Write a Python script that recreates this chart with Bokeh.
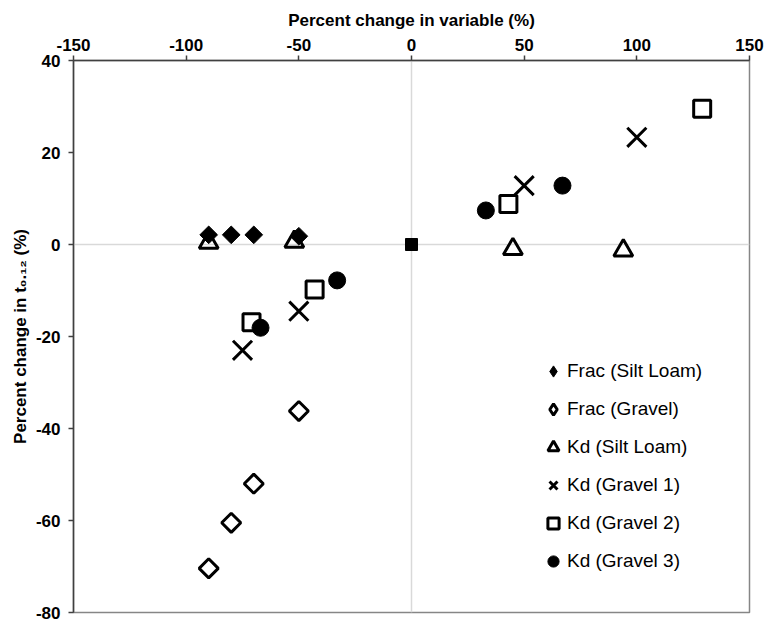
import math
from bokeh.plotting import figure
from bokeh.models import FixedTicker, Legend, LegendItem, Range1d
from bokeh.embed import file_html
from bokeh.resources import INLINE

# ---- data ----
x_ticks = [-150, -100, -50, 0, 50, 100, 150]
y_ticks = [-80, -60, -40, -20, 0, 20, 40]

frac_silt_x = [-90, -80, -70, -50]
frac_silt_y = [2.1, 2.1, 2.1, 1.8]
frac_grav_x = [-90, -80, -70, -50]
frac_grav_y = [-70.4, -60.5, -52.0, -36.2]
kd_silt_x = [-90, -52, 45, 94]
kd_silt_y = [0.4, 0.6, -1.0, -1.3]
kd_g1_x = [-75, -50, 50, 100]
kd_g1_y = [-23.0, -14.5, 12.8, 23.3]
kd_g2_x = [-71, -43, 43, 129]
kd_g2_y = [-16.9, -9.8, 8.8, 29.5]
kd_g3_x = [-67, -33, 33, 67]
kd_g3_y = [-18.1, -7.8, 7.4, 12.8]
base_x = [0]
base_y = [0]

labels = ["Frac (Silt Loam)", "Frac (Gravel)", "Kd (Silt Loam)",
          "Kd (Gravel 1)", "Kd (Gravel 2)", "Kd (Gravel 3)"]

FONT = "Liberation Sans"
INK = "#000000"

p = figure(width=766, height=621, output_backend="svg", toolbar_location=None,
           x_range=Range1d(-150, 150), y_range=Range1d(-80, 40),
           x_axis_location="above",
           min_border_left=73, min_border_right=17, min_border_top=60, min_border_bottom=9)
p.background_fill_color = "white"
p.border_fill_color = "white"
p.outline_line_color = "#868686"
p.outline_line_width = 1.5

# axes
for ax, ticks in ((p.xaxis[0], x_ticks), (p.yaxis[0], y_ticks)):
    ax.ticker = FixedTicker(ticks=ticks)
    ax.major_label_overrides = {t: str(t) for t in ticks}
    ax.minor_tick_line_color = None
    ax.major_tick_in = 0
    ax.major_tick_out = 5
    ax.axis_line_color = "#404040"
    ax.axis_line_width = 1.5
    ax.major_tick_line_color = "#404040"
    ax.major_tick_line_width = 1.5
    ax.major_label_text_font = FONT
    ax.major_label_text_font_style = "bold"
    ax.major_label_text_font_size = "17px"
    ax.major_label_text_color = INK
    ax.axis_label_text_font = FONT
    ax.axis_label_text_font_style = "bold"
    ax.axis_label_text_font_size = "17px"
    ax.axis_label_text_color = INK

p.xaxis.major_label_standoff = 5
p.xaxis.axis_label = "Percent change in variable (%)"
p.xaxis.axis_label_standoff = 6

p.yaxis.major_label_standoff = 8
p.yaxis.axis_label = "Percent change in t\u2080.\u2081\u2082 (%)"
p.yaxis.axis_label_standoff = 3

# grid only at zero
p.xgrid.ticker = FixedTicker(ticks=[0])
p.ygrid.ticker = FixedTicker(ticks=[0])
for g in (p.xgrid[0], p.ygrid[0]):
    g.grid_line_color = "#d9d9d9"
    g.grid_line_width = 1.5

# legend stand-ins for the diamond shapes (drawn first, hidden under the real marks,
# because legend glyphs are drawn unrotated)
l1 = p.scatter(frac_silt_x, frac_silt_y, marker="diamond", size=12,
               fill_color="black", line_color="black", line_width=1)
l2 = p.scatter(frac_grav_x, frac_grav_y, marker="diamond", size=11,
               fill_color="white", line_color="black", line_width=3)

# data
r0 = p.scatter(base_x, base_y, marker="square", size=12, fill_color="black", line_color="black")
r1 = p.scatter(frac_silt_x, frac_silt_y, marker="square", angle=math.pi / 4, size=12.5,
               fill_color="black", line_color="black", line_width=1)
r2 = p.scatter(frac_grav_x, frac_grav_y, marker="square", angle=math.pi / 4, size=13.5,
               fill_color="white", line_color="black", line_width=3)
r3 = p.scatter(kd_silt_x, kd_silt_y, marker="triangle", size=19,
               fill_color="white", fill_alpha=0, line_color="black", line_width=3)
r4 = p.scatter(kd_g1_x, kd_g1_y, marker="x", size=27, line_color="black", line_width=3)
r5 = p.scatter(kd_g2_x, kd_g2_y, marker="square", size=17,
               fill_color="white", line_color="black", line_width=3)
r6 = p.scatter(kd_g3_x, kd_g3_y, marker="circle", size=17,
               fill_color="black", line_color="black")

legend = Legend(items=[LegendItem(label=l, renderers=[r]) for l, r in
                       zip(labels, [l1, l2, r3, r4, r5, r6])],
                location=(466, 37), orientation="vertical",
                glyph_width=28, glyph_height=28, spacing=10, padding=0, margin=0,
                label_standoff=0, label_height=28,
                label_text_font=FONT, label_text_font_size="19px", label_text_color=INK,
                background_fill_alpha=0, border_line_color=None)
p.add_layout(legend)

open("out.html", "w").write(file_html(p, INLINE))
